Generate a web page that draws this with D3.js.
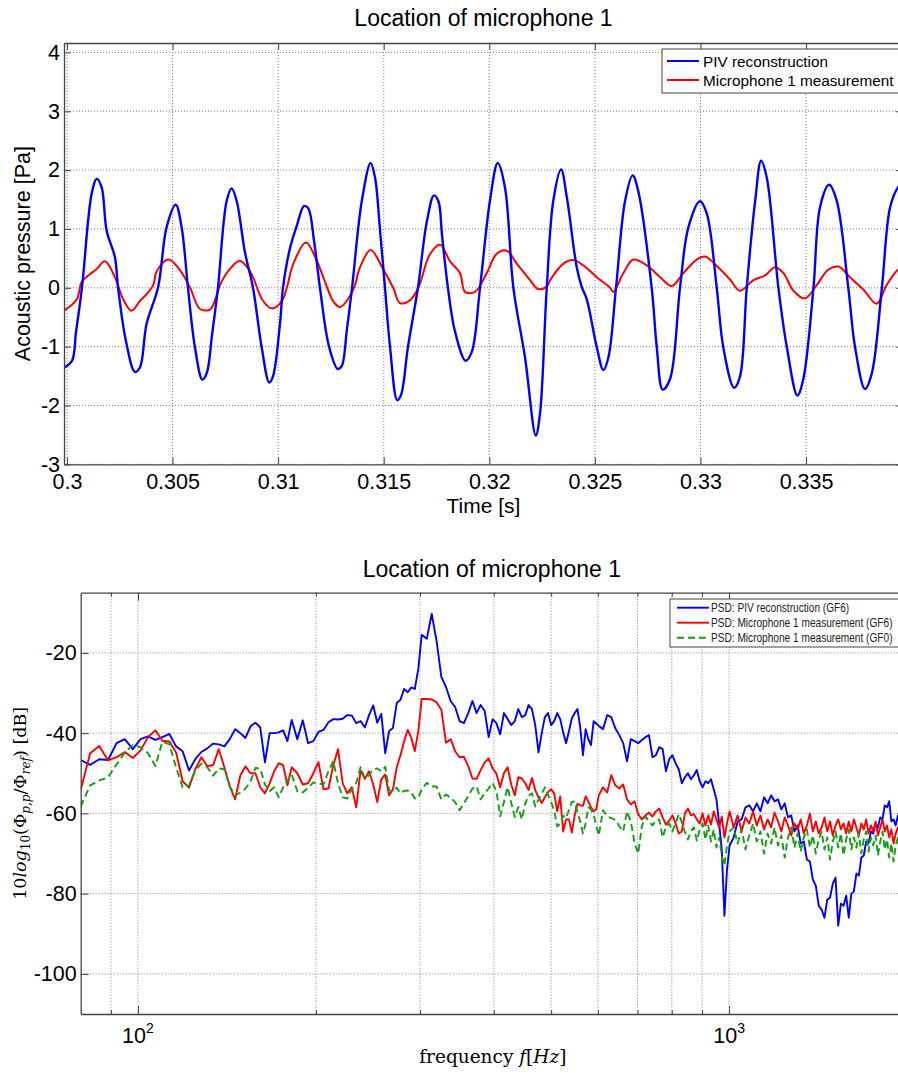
<!DOCTYPE html>
<meta charset="utf-8">
<style>
	body { margin: 0; background: #fff; overflow: hidden; }
	svg { display: block; font-family: "Liberation Sans", Arial, Helvetica, sans-serif; }
	.grid line { stroke: #808080; stroke-width: 1; stroke-dasharray: 1,2; }
	.serif { font-family: "DejaVu Serif", serif; }
</style>
<svg width="898" height="1073"></svg>
<script src="https://d3js.org/d3.v7.min.js"></script>
<script>
	// ---- top panel: time signals ----
	var timeTicks = [0.3, 0.305, 0.31, 0.315, 0.32, 0.325, 0.33, 0.335];
	var pressureTicks = [-3, -2, -1, 0, 1, 2, 3, 4];

	var pivTime = [0.29986,0.30024,0.30043,0.30071,0.30117,0.30141,0.30164,0.30188,0.30227,0.30242,
		0.30279,0.30322,0.30346,0.30377,0.30431,0.30472,0.30515,0.30543,0.30573,0.30606,
		0.30641,0.30662,0.30687,0.30715,0.30756,0.30780,0.30804,0.30843,0.30881,0.30922,
		0.30958,0.30976,0.31009,0.31023,0.31056,0.31088,0.31123,0.31143,0.31170,0.31198,
		0.31241,0.31282,0.31301,0.31326,0.31350,0.31396,0.31438,0.31459,0.31482,0.31506,
		0.31530,0.31564,0.31582,0.31615,0.31662,0.31704,0.31738,0.31759,0.31776,0.31804,
		0.31838,0.31888,0.31917,0.31956,0.32003,0.32040,0.32074,0.32114,0.32169,0.32220,
		0.32240,0.32272,0.32303,0.32340,0.32367,0.32414,0.32438,0.32461,0.32509,0.32540,
		0.32564,0.32600,0.32643,0.32679,0.32706,0.32769,0.32793,0.32821,0.32856,0.32903,
		0.32943,0.32998,0.33030,0.33077,0.33108,0.33159,0.33187,0.33219,0.33259,0.33287,
		0.33314,0.33369,0.33409,0.33459,0.33487,0.33535,0.33566,0.33609,0.33645,0.33700,
		0.33732,0.33779,0.33811,0.33859,0.33898,0.33936,0.33964];
	var pivPressure = [-1.36,-1.24,-0.75,0,1.6,1.85,1.71,0.97,0.52,0,
		-0.9,-1.43,-1.35,-0.61,0,1.03,1.41,1.03,0,-1.01,
		-1.56,-1.45,-0.8,0,1.47,1.69,1.47,0.6,0,-1.01,
		-1.61,-1.5,-0.6,0,0.67,1.05,1.39,1.35,0.8,0,
		-1.0,-1.38,-1.33,-0.7,0,1.47,2.12,1.87,1.0,0,
		-1.01,-1.91,-1.82,-1.0,0,1.12,1.57,1.47,0.9,0,
		-0.75,-1.24,-1.09,0,1.48,2.12,1.71,0,-1.18,-2.51,
		-2.14,0,1.48,2.01,1.54,0.35,0.01,-0.19,-1.01,-1.40,
		-1.18,0,1.48,1.91,1.63,0,-1.01,-1.73,-1.55,0,
		1.03,1.47,1.26,0,-1.01,-1.70,-1.51,0,1.48,2.16,
		1.87,0,-1.01,-1.83,-1.55,0,1.37,1.75,1.48,0,
		-1.01,-1.72,-1.46,0,1.37,1.71,1.8];

	var micTime = [0.29986,0.30046,0.30070,0.30109,0.30141,0.30180,0.30227,0.30267,0.30306,0.30346,
		0.30377,0.30409,0.30425,0.30480,0.30535,0.30583,0.30630,0.30677,0.30709,0.30725,
		0.30772,0.30819,0.30867,0.30928,0.30969,0.31017,0.31041,0.31072,0.31132,0.31183,
		0.31222,0.31261,0.31293,0.31340,0.31364,0.31388,0.31438,0.31498,0.31545,0.31577,
		0.31625,0.31664,0.31719,0.31767,0.31814,0.31861,0.31885,0.31932,0.31988,0.32035,
		0.32083,0.32130,0.32193,0.32231,0.32272,0.32288,0.32351,0.32398,0.32445,0.32509,
		0.32572,0.32587,0.32635,0.32682,0.32746,0.32809,0.32864,0.32919,0.32982,0.33022,
		0.33077,0.33140,0.33187,0.33251,0.33306,0.33353,0.33393,0.33440,0.33495,0.33551,
		0.33606,0.33653,0.33708,0.33771,0.33835,0.33882,0.33936,0.33964];
	var micPressure = [-0.39,-0.2,0.1,0.23,0.32,0.45,0.18,-0.2,-0.39,-0.22,
		-0.11,0.05,0.28,0.48,0.3,0.0,-0.36,-0.37,-0.13,0.05,
		0.32,0.46,0.28,-0.22,-0.35,-0.23,0,0.41,0.77,0.46,
		0.1,-0.23,-0.33,-0.14,0.05,0.35,0.64,0.31,0,-0.26,
		-0.21,0,0.57,0.73,0.45,0.25,-0.07,-0.07,0.25,0.58,
		0.63,0.41,0.13,-0.02,0.02,0.13,0.41,0.47,0.38,0.18,
		0,-0.07,0.25,0.48,0.38,0.18,0.03,0.25,0.48,0.53,
		0.37,0.14,-0.05,0.13,0.21,0.35,0.25,-0.05,-0.18,0.05,
		0.31,0.36,0.18,-0.03,-0.27,0.05,0.31,0.35];

	// ---- bottom panel: power spectral density ----
	var freqTicksMajor = [100, 1000];
	var freqTicksMinor = [90, 200, 300, 400, 500, 600, 700, 800, 900, 2000];
	var dbTicks = [-100, -80, -60, -40, -20];

	var freqHz = [80,83,86,89,92,95,98,101,104,107,110,113,116,119,122,125,128,131,134,137,
		140,143,146,149,152,155,158,161,164,167,170,173,176,179,182,
		186,190,194,198,202,206,210,214,218,222,226,230,234,238,242,246,250,254,258,262,
		266,270,274,278,282,286,290,294,298,302,
		308,314,320,326,332,338,344,350,356,362,368,374,380,386,392,398,404,410,416,422,
		428,434,440,446,452,458,464,470,476,482,488,494,500,506,512,518,524,530,536,542,
		548,554,560,566,572,578,584,590,596,602,
		612,622,632,642,652,662,672,682,692,702,712,722,732,742,752,762,772,782,792,802,
		812,822,832,842,852,862,872,882,892,902,912,922,932,942,952,962,972,982,992,1002,
		1018,1034,1050,1066,1082,1098,1114,1130,1146,1162,1178,1194,1210,1226,1242,1258,
		1274,1290,1306,1322,1338,1354,1370,1386,1402,1418,1434,1450,1466,1482,1498,1514,
		1530,1546,1562,1578,1594,1610,1626,1642,1658,1674,1690,1706,1722,1738,1754,1770,
		1786,1802,1818,1834,1850,1866,1882,1898,1914,1930,1946,1962,1978,1994,2010];

	var psdPiv = [-46.7,-47.9,-46.5,-46.7,-42.5,-41.5,-44.0,-41.5,-40.8,-41.7,-41.0,-40.2,-43.3,-44.5,-49.3,-46.5,-44.7,-43.8,-42.6,-42.8,
		-43.3,-41.5,-39.0,-40.0,-41.2,-38.3,-37.4,-38.6,-47.3,-40.0,-40.0,-39.8,-39.3,-42.0,-36.7,
		-41.5,-36.8,-42.5,-42.0,-39.7,-39.2,-37.3,-36.5,-36.6,-36.4,-35.5,-35.6,-37.5,-37.0,-38.6,-35.5,-33.1,-37.4,-35.2,-45.0,
		-39.5,-38.7,-32.5,-31.7,-29.0,-29.8,-28.6,-29.0,-24.0,-15.5,
		-16.5,-10.3,-17.0,-26.0,-28.5,-32.0,-33.5,-37.0,-37.5,-35.0,-32.0,-35.0,-33.0,-34.5,-41.0,-36.5,-37.5,-40.3,-35.0,-36.5,
		-38.0,-37.0,-34.0,-36.0,-35.5,-33.0,-34.0,-38.0,-44.8,-40.0,-36.0,-35.0,-38.0,-37.0,-35.0,-36.5,-39.8,-42.5,-39.5,-36.3,
		-35.0,-34.0,-38.5,-45.5,-39.0,-41.5,-43.0,-37.0,-37.6,-38.2,
		-39.0,-35.5,-36.0,-38.8,-40.5,-42.5,-47.0,-41.5,-42.0,-42.5,-41.7,-41.0,-40.5,-46.0,-45.5,-43.5,-44.0,-49.5,-46.5,-45.5,
		-47.5,-49.0,-52.5,-51.0,-50.0,-51.5,-50.5,-49.2,-52.0,-53.5,-52.0,-52.5,-51.5,-54.0,-56.5,-62.5,-69.0,-85.5,-74.0,-68.0,
		-66.0,-62.0,-61.5,-58.5,-58.0,-59.5,-57.5,-59.5,-56.0,-57.5,-55.5,-57.0,-56.5,-59.0,-57.5,-61.0,
		-60.5,-64.5,-63.0,-67.5,-67.0,-71.5,-72.0,-76.5,-78.0,-83.0,-84.0,-86.0,-81.5,-81.0,-77.5,-76.0,
		-88.0,-82.5,-83.0,-80.5,-86.0,-80.0,-79.5,-75.0,-75.5,-71.0,-70.5,-67.0,-67.5,-64.5,-65.0,-62.5,
		-63.5,-61.0,-61.5,-58.0,-58.5,-57.0,-62.0,-61.5,-63.0,-60.5,-63.5,-61.5,-64.0,-62.0,-64.0];

	var psdMicGF6 = [-54.2,-45.0,-43.2,-46.8,-46.0,-44.7,-46.2,-44.3,-41.0,-39.3,-41.9,-42.1,-44.8,-52.0,-53.6,-49.0,-46.0,-48.2,-48.0,-44.0,
		-48.5,-53.3,-56.5,-50.5,-48.3,-50.0,-50.0,-53.5,-55.0,-52.5,-49.5,-47.5,-48.0,-53.0,-48.5,
		-50.0,-52.8,-52.5,-50.0,-47.2,-54.0,-53.8,-48.0,-44.0,-52.5,-55.0,-53.5,-58.5,-49.3,-51.4,-49.5,-52.8,-57.2,-51.5,-50.3,
		-55.5,-54.0,-48.5,-45.5,-42.0,-39.2,-41.2,-44.5,-39.5,-31.5,
		-31.5,-31.6,-32.3,-34.2,-42.4,-41.5,-44.5,-46.0,-45.9,-48.2,-51.3,-51.4,-49.2,-47.3,-46.3,-48.8,-50.1,-53.5,-50.0,-48.5,
		-52.8,-55.5,-51.0,-51.3,-52.5,-54.2,-51.2,-54.2,-56.0,-57.4,-56.0,-54.7,-54.0,-55.0,-59.5,-55.8,-64.5,-61.5,-61.5,-64.8,
		-60.5,-57.6,-58.0,-58.1,-55.8,-57.0,-58.5,-59.5,-59.0,-55.5,
		-53.5,-54.8,-50.5,-53.0,-53.8,-52.8,-56.5,-57.8,-57.0,-60.2,-61.5,-60.5,-59.8,-60.8,-59.5,-58.8,-61.0,-62.8,-61.8,-60.5,
		-62.5,-65.0,-64.5,-60.0,-58.8,-60.5,-60.2,-61.5,-62.5,-60.0,-63.0,-60.5,-62.8,-59.5,-61.5,-63.5,-60.8,-66.0,-62.5,-59.5,
		-63.5,-60.5,-64.5,-61.0,-62.5,-59.5,-63.0,-60.5,-64.0,-61.5,-63.5,-59.8,-62.0,-64.5,-61.0,-63.0,
		-65.5,-62.5,-64.0,-61.5,-65.0,-63.0,-60.0,-64.5,-62.0,-65.0,-63.5,-61.0,-64.5,-62.0,-65.5,-63.0,
		-61.5,-64.0,-62.5,-65.0,-62.0,-64.5,-61.5,-63.5,-65.5,-62.5,-64.0,-61.5,-65.0,-63.0,-64.5,-62.0,
		-65.5,-63.5,-61.5,-64.5,-63.0,-66.0,-64.0,-67.5,-65.0,-63.5,-66.5,-64.0,-66.0,-63.5,-65.0];

	var psdMicGF0 = [-58.3,-53.0,-51.8,-51.0,-47.8,-44.8,-43.0,-43.5,-45.0,-48.2,-42.1,-42.8,-48.5,-53.5,-53.0,-49.3,-47.6,-48.5,-50.6,-48.8,
		-49.0,-53.3,-55.6,-54.8,-53.8,-52.1,-48.7,-48.8,-52.8,-54.5,-53.5,-56.0,-53.5,-51.9,-50.3,
		-54.5,-54.8,-53.6,-52.3,-52.5,-52.8,-49.5,-47.0,-52.5,-56.0,-56.3,-54.0,-52.5,-48.5,-51.3,-50.5,-49.0,-48.8,-49.5,-48.4,
		-54.2,-54.5,-53.6,-55.0,-54.4,-54.3,-54.8,-56.3,-56.0,-54.0,
		-52.4,-53.3,-53.3,-56.5,-55.3,-56.1,-57.2,-59.2,-57.5,-55.7,-53.8,-53.3,-56.5,-55.0,-53.8,-52.4,-54.5,-60.7,-57.2,-53.5,
		-57.3,-60.9,-58.4,-61.5,-57.5,-55.6,-55.0,-58.3,-56.6,-55.1,-53.5,-55.4,-57.2,-59.3,-63.3,-62.5,-60.6,-61.2,-59.1,-57.1,
		-57.1,-59.7,-62.0,-65.0,-62.5,-58.5,-59.0,-60.3,-63.0,-65.5,
		-59.2,-60.8,-61.2,-61.6,-63.2,-64.5,-59.5,-62.0,-67.4,-70.0,-63.2,-60.7,-62.0,-63.0,-61.8,-61.5,-66.0,-63.4,-62.5,-64.5,
		-62.5,-60.2,-62.2,-64.7,-66.5,-64.5,-63.5,-66.8,-64.0,-62.5,-66.5,-63.0,-67.0,-64.0,-68.5,-66.0,-70.5,-73.0,-68.0,-64.5,
		-63.5,-67.5,-64.0,-69.0,-65.5,-62.5,-67.0,-64.5,-70.0,-65.0,-67.5,-63.5,-68.0,-65.5,-71.0,-66.0,
		-63.5,-68.5,-65.0,-69.5,-66.0,-64.0,-68.5,-65.5,-70.0,-66.5,-64.5,-69.0,-66.0,-71.5,-67.0,-64.5,
		-68.5,-65.0,-70.5,-66.5,-64.0,-69.0,-66.0,-68.5,-65.0,-70.0,-66.5,-64.5,-69.5,-66.0,-68.0,-65.5,
		-70.5,-67.0,-64.5,-69.0,-66.5,-71.0,-67.5,-72.0,-68.0,-66.0,-70.5,-67.5,-69.5,-66.5,-68.5];

	var svg = d3.select("svg");
	var textFont = '"Liberation Sans", Arial, Helvetica, sans-serif';

	function styleAxis(g, labels) {
		g.attr("color", "#444").attr("font-size", 21.5).attr("font-family", textFont);
		g.select(".domain").attr("stroke-width", 1.3);
		g.selectAll(".tick line").attr("stroke-width", 1);
		g.selectAll("text").attr("fill", "#000");
		if (!labels) g.selectAll("text").remove();
	}

	// =========== top panel ===========
	var p1 = {l: 64, r: 903, t: 43, b: 464.3};
	var x1 = d3.scaleLinear().domain([0.29986, 0.33959]).range([p1.l, p1.r]);
	var y1 = d3.scaleLinear().domain([-3, 4.16]).range([p1.b, p1.t]);

	var topPanel = svg.append("g");

	var grid1 = topPanel.append("g").attr("class", "grid");
	grid1.selectAll(".gx").data(timeTicks).enter().append("line")
		.attr("x1", function(d){return x1(d)}).attr("x2", function(d){return x1(d)})
		.attr("y1", p1.t).attr("y2", p1.b);
	grid1.selectAll(".gy").data(pressureTicks).enter().append("line")
		.attr("x1", p1.l).attr("x2", p1.r)
		.attr("y1", function(d){return y1(d)}).attr("y2", function(d){return y1(d)});

	topPanel.append("clipPath").attr("id", "clip1").append("rect")
		.attr("x", p1.l).attr("y", p1.t).attr("width", p1.r - p1.l).attr("height", p1.b - p1.t);

	var timeLine = d3.line()
		.x(function(d){return x1(d[0])}).y(function(d){return y1(d[1])})
		.curve(d3.curveCatmullRom.alpha(0.5));

	topPanel.append("path").datum(d3.zip(micTime, micPressure))
		.attr("clip-path", "url(#clip1)")
		.attr("fill", "none").attr("stroke", "#ff0000").attr("stroke-width", 2)
		.attr("d", timeLine);
	topPanel.append("path").datum(d3.zip(pivTime, pivPressure))
		.attr("clip-path", "url(#clip1)")
		.attr("fill", "none").attr("stroke", "#0000ff").attr("stroke-width", 2.4)
		.attr("d", timeLine);

	topPanel.append("g").attr("transform", "translate(0," + p1.b + ")")
		.call(d3.axisBottom(x1).tickValues(timeTicks).tickSize(-7).tickSizeOuter(0).tickPadding(9).tickFormat(function(d){return String(d)}))
		.call(styleAxis, true);
	topPanel.append("g").attr("transform", "translate(0," + p1.t + ")")
		.call(d3.axisTop(x1).tickValues(timeTicks).tickSize(-7).tickSizeOuter(0))
		.call(styleAxis, false);
	topPanel.append("g").attr("transform", "translate(" + p1.l + ",0)")
		.call(d3.axisLeft(y1).tickValues(pressureTicks).tickSize(-7).tickSizeOuter(0).tickPadding(4).tickFormat(function(d){return String(d)}))
		.call(styleAxis, true);
	topPanel.append("g").attr("transform", "translate(" + p1.r + ",0)")
		.call(d3.axisRight(y1).tickValues(pressureTicks).tickSize(-7).tickSizeOuter(0))
		.call(styleAxis, false);

	topPanel.append("text").attr("x", (p1.l + p1.r) / 2).attr("y", 26)
		.attr("text-anchor", "middle").attr("font-size", 23).text("Location of microphone 1");
	topPanel.append("text").attr("x", (p1.l + p1.r) / 2).attr("y", 513)
		.attr("text-anchor", "middle").attr("font-size", 21).text("Time [s]");
	topPanel.append("text").attr("transform", "translate(30," + (p1.t + p1.b) / 2 + ") rotate(-90)")
		.attr("text-anchor", "middle").attr("font-size", 21.5).text("Acoustic pressure [Pa]");

	// legend
	var leg1 = topPanel.append("g").attr("transform", "translate(662,49)");
	leg1.append("rect").attr("width", 260).attr("height", 44).attr("fill", "#fff").attr("stroke", "#444").attr("stroke-width", 1);
	[["PIV reconstruction", "#0000ff", 12], ["Microphone 1 measurement", "#ff0000", 31]].forEach(function(e){
		leg1.append("line").attr("x1", 5).attr("x2", 37).attr("y1", e[2]).attr("y2", e[2])
			.attr("stroke", e[1]).attr("stroke-width", 2);
		leg1.append("text").attr("x", 41).attr("y", e[2] + 5.5).attr("font-size", 15.3).text(e[0]);
	});

	// =========== bottom panel ===========
	var p2 = {l: 80.7, r: 907, t: 592.7, b: 1014};
	var x2 = d3.scaleLog().domain([80, 2000]).range([p2.l, p2.r]);
	var y2 = d3.scaleLinear().domain([-110, -5]).range([p2.b, p2.t]);

	var botPanel = svg.append("g");
	var grid2 = botPanel.append("g").attr("class", "grid");
	grid2.selectAll(".gx").data(freqTicksMajor.concat(freqTicksMinor)).enter().append("line")
		.attr("x1", function(d){return x2(d)}).attr("x2", function(d){return x2(d)})
		.attr("y1", p2.t).attr("y2", p2.b);
	grid2.selectAll(".gy").data(dbTicks).enter().append("line")
		.attr("x1", p2.l).attr("x2", p2.r)
		.attr("y1", function(d){return y2(d)}).attr("y2", function(d){return y2(d)});

	botPanel.append("clipPath").attr("id", "clip2").append("rect")
		.attr("x", p2.l).attr("y", p2.t).attr("width", p2.r - p2.l).attr("height", p2.b - p2.t);

	var psdLine = d3.line().x(function(d){return x2(d[0])}).y(function(d){return y2(d[1])});
	var series = [
		{name: "PSD: PIV reconstruction (GF6)", values: psdPiv, color: "#0000ff", dash: null},
		{name: "PSD: Microphone 1 measurement (GF6)", values: psdMicGF6, color: "#ff0000", dash: null},
		{name: "PSD: Microphone 1 measurement (GF0)", values: psdMicGF0, color: "#12a012", dash: "7,4"}
	];
	series.forEach(function(s){
		botPanel.append("path").datum(d3.zip(freqHz, s.values))
			.attr("clip-path", "url(#clip2)")
			.attr("fill", "none").attr("stroke", s.color).attr("stroke-width", 1.9)
			.attr("stroke-dasharray", s.dash).attr("stroke-linejoin", "round")
			.attr("d", psdLine);
	});

	// frame with inward ticks
	function freqAxis(axis, y, labels) {
		var g = botPanel.append("g").attr("transform", "translate(0," + y + ")");
		g.call(axis(x2).tickValues(freqTicksMajor).tickSize(-8).tickSizeOuter(0).tickFormat(""));
		styleAxis(g, false);
		var m = botPanel.append("g").attr("transform", "translate(0," + y + ")");
		m.call(axis(x2).tickValues(freqTicksMinor).tickSize(-4).tickSizeOuter(0).tickFormat(""));
		styleAxis(m, false);
		m.select(".domain").remove();
		if (labels) {
			freqTicksMajor.forEach(function(f){
				var t = botPanel.append("text").attr("x", x2(f)).attr("y", y + 29)
					.attr("text-anchor", "middle").attr("font-size", 21.5);
				t.append("tspan").text("10");
				t.append("tspan").attr("dy", -10).attr("font-size", 14).text(String(Math.round(Math.log10(f))));
			});
		}
	}
	freqAxis(d3.axisBottom, p2.b, true);
	freqAxis(d3.axisTop, p2.t, false);
	botPanel.append("g").attr("transform", "translate(" + p2.l + ",0)")
		.call(d3.axisLeft(y2).tickValues(dbTicks).tickSize(-8).tickSizeOuter(0).tickPadding(4).tickFormat(function(d){return String(d)}))
		.call(styleAxis, true);
	botPanel.append("g").attr("transform", "translate(" + p2.r + ",0)")
		.call(d3.axisRight(y2).tickValues(dbTicks).tickSize(-8).tickSizeOuter(0))
		.call(styleAxis, false);

	botPanel.append("text").attr("x", (p2.l + p2.r) / 2 - 2).attr("y", 576.5)
		.attr("text-anchor", "middle").attr("font-size", 23).text("Location of microphone 1");

	var xl = botPanel.append("text").attr("class", "serif").attr("x", (p2.l + p2.r) / 2 - 1).attr("y", 1063)
		.attr("text-anchor", "middle").attr("font-size", 18.5);
	xl.append("tspan").text("frequency ");
	xl.append("tspan").attr("font-style", "italic").text("f");
	xl.append("tspan").text("[");
	xl.append("tspan").attr("font-style", "italic").text("Hz");
	xl.append("tspan").text("]");

	var yl = botPanel.append("text").attr("class", "serif")
		.attr("transform", "translate(26," + (p2.t + p2.b) / 2 + ") rotate(-90)")
		.attr("text-anchor", "middle").attr("font-size", 17.5);
	yl.append("tspan").text("10");
	yl.append("tspan").attr("font-style", "italic").text("log");
	yl.append("tspan").attr("dy", 4).attr("font-size", 12).text("10");
	yl.append("tspan").attr("dy", -4).text("(Φ");
	yl.append("tspan").attr("dy", 4).attr("font-size", 12).attr("font-style", "italic").text("p,p");
	yl.append("tspan").attr("dy", -4).text("/Φ");
	yl.append("tspan").attr("dy", 4).attr("font-size", 12).attr("font-style", "italic").text("ref");
	yl.append("tspan").attr("dy", -4).text(") [dB]");

	// legend (narrow font imitated with a horizontal squeeze)
	var leg2 = botPanel.append("g").attr("transform", "translate(670,599)");
	leg2.append("rect").attr("width", 250).attr("height", 48).attr("fill", "#fff").attr("stroke", "#444").attr("stroke-width", 1);
	series.forEach(function(s, i){
		var yy = 8.7 + i * 15;
		leg2.append("line").attr("x1", 7).attr("x2", 39).attr("y1", yy).attr("y2", yy)
			.attr("stroke", s.color).attr("stroke-width", 1.9).attr("stroke-dasharray", s.dash);
		leg2.append("text").attr("transform", "translate(41," + (yy + 4.5) + ") scale(0.81,1)")
			.attr("font-size", 12.5).attr("fill", "#222").text(s.name);
	});
</script>
